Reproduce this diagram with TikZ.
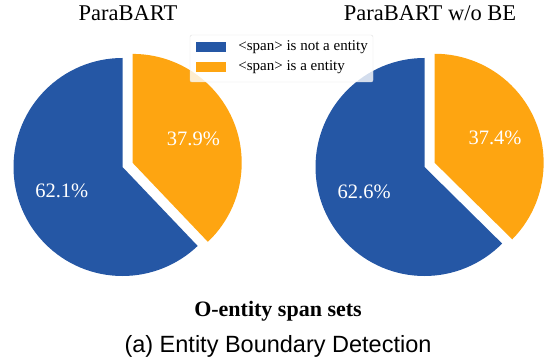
\documentclass[tikz,border=0pt]{standalone}
\usepackage{fontspec}
\setmainfont{Liberation Serif}
\newfontfamily\capfont{Liberation Sans}
\usepackage{tikz}
\usetikzlibrary{positioning, calc}
\definecolor{pieblue}{RGB}{37,87,165}
\definecolor{pieorange}{RGB}{254,165,17}

\begin{document}
\begin{tikzpicture}[x=1pt, y=1pt,
  ttl/.style={font=\fontsize{22.5}{22.5}\selectfont, anchor=base},
  pct/.style={font=\fontsize{20.5}{20.5}\selectfont, text=white},
  lg/.style={font=\fontsize{15}{15}\selectfont, inner sep=0pt, anchor=west},
  patch/.style={minimum width=30pt, minimum height=10pt, inner sep=0pt}]
\useasboundingbox (0,0) rectangle (546,362);
% left pie
\coordinate (lc) at (122.5,195);
\fill[pieblue] (lc) -- +(90:109) arc[start angle=90, end angle=313.6, radius=109] -- cycle;
\fill[pieorange] ($(lc)+(21.8:11)$) -- +(-46.4:109) arc[start angle=-46.4, end angle=90, radius=109] -- cycle;
\node[pct] (lb) at ($(lc)+(201.8:65.4)$) {62.1\%};
\node[pct] (lo) at ($(lc)+(21.8:11)+(21.8:65.4)$) {37.9\%};
\node[ttl] (lt) at (128,341) {ParaBART};
% right pie
\coordinate (rc) at (424.5,195);
\fill[pieblue] (rc) -- +(90:109) arc[start angle=90, end angle=315.4, radius=109] -- cycle;
\fill[pieorange] ($(rc)+(22.7:11)$) -- +(-44.6:109) arc[start angle=-44.6, end angle=90, radius=109] -- cycle;
\node[pct] (rb) at ($(rc)+(202.7:65.4)$) {62.6\%};
\node[pct] (ro) at ($(rc)+(22.7:11)+(22.7:65.4)$) {37.4\%};
\node[ttl] (rt) at (430,341) {ParaBART w/o BE};
% legend
\draw[draw=black!12, fill=white, fill opacity=0.8, rounded corners=2pt] (190,280) rectangle (373,327);
\node[patch, fill=pieblue] (pb) at (211,315) {};
\node[lg, right=12pt of pb] (tb) {<span> is not a entity};
\node[patch, fill=pieorange] (po) at (211,295) {};
\node[lg, right=12pt of po] (to) {<span> is a entity};
% captions
\node[font=\bfseries\fontsize{22}{22}\selectfont, anchor=base] (st) at (278,46) {O-entity span sets};
\node[font=\capfont\fontsize{23.5}{23.5}\selectfont, anchor=base] (cap) at (278,10) {(a) Entity Boundary Detection};
\end{tikzpicture}
\end{document}
